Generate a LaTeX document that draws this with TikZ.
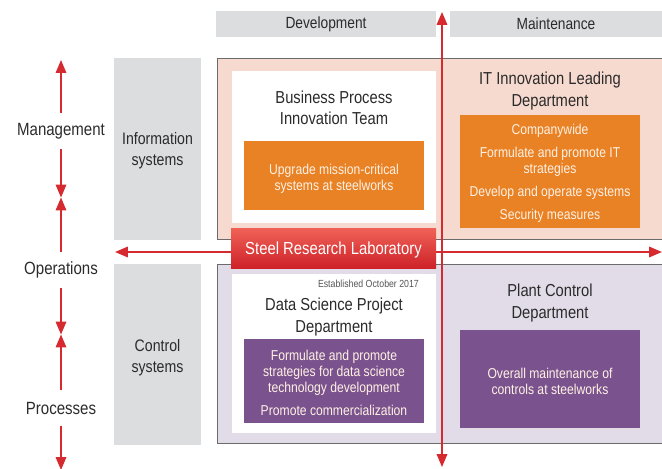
\documentclass[tikz,border=0pt]{standalone}
\usepackage{fontspec}
\setmainfont{Liberation Sans}[FakeStretch=0.85]
\usepackage{tikz}
\usetikzlibrary{positioning, fit, calc, arrows.meta}
\usepackage{xcolor}
\definecolor{headgray}{HTML}{DCDDDF}
\definecolor{mgmtpink}{HTML}{F7DACF}
\definecolor{ctrllav}{HTML}{E2DCE8}
\definecolor{taskorange}{HTML}{E98125}
\definecolor{taskpurple}{HTML}{7A528D}
\definecolor{arrowred}{HTML}{D42A30}
\definecolor{labred}{HTML}{CE2229}
\definecolor{labredtop}{HTML}{EF6257}
\definecolor{textdark}{HTML}{2B2B2B}
\definecolor{framegray}{HTML}{6B6B6B}

\begin{document}
\begin{tikzpicture}[x=0.03cm, y=-0.03cm,
  header/.style={fill=headgray, inner sep=0pt},
  headtext/.style={text=textdark, font=\fontsize{13.8}{16}\selectfont},
  sysbox/.style={fill=headgray, inner sep=0pt},
  systext/.style={align=center, text=textdark, font=\fontsize{14.2}{18}\selectfont},
  tier/.style={minimum height=1.05cm, inner sep=0pt, text=textdark, font=\fontsize{15.1}{18}\selectfont},
  mgmtzone/.style={draw=framegray, line width=0.8pt, fill=mgmtpink, inner sep=0pt},
  ctrlzone/.style={draw=framegray, line width=0.8pt, fill=ctrllav, inner sep=0pt},
  team/.style={fill=white, inner sep=0pt},
  depname/.style={align=center, text=textdark, font=\fontsize{14.8}{18}\selectfont},
  task_o/.style={fill=taskorange, inner sep=0pt},
  task_p/.style={fill=taskpurple, inner sep=0pt},
  tasktext/.style={align=center, text=white!90!orange, font=\fontsize{12.2}{13.7}\selectfont},
  lab/.style={top color=labredtop, bottom color=labred, inner sep=0pt},
  labtext/.style={text=white, font=\fontsize{14.9}{18}\selectfont},
  redarrow/.style={draw=arrowred, line width=1.3pt, -{Triangle[length=11pt, width=9pt]}},
  redboth/.style={draw=arrowred, line width=1.3pt, {Triangle[length=11pt, width=9pt]}-{Triangle[length=11pt, width=9pt]}}
]
    \useasboundingbox (0,0) rectangle (662,468);

    % Zones
    \node[mgmtzone, fit={(217,58) (666,239)}] (z1) {};
    \node[ctrlzone, fit={(217,264) (666,443)}] (z2) {};

    % Column headers
    \node[header, fit={(216,11) (436,37)}] (h1) {};
    \node[header, fit={(450,11) (662,37)}] (h2) {};
    \node[headtext] (h1t) at (h1) {Development};
    \node[headtext] (h2t) at (h2) {Maintenance};

    % Systems
    \node[sysbox, fit={(114,58) (201,240)}] (s1) {};
    \node[sysbox, fit={(114,264) (201,445)}] (s2) {};
    \node[systext] (s1t) at ($(s1)+(0,2)$) {Information\\systems};
    \node[systext] (s2t) at ($(s2)+(0,3)$) {Control\\systems};

    % Levels
    \node[tier] (l1) at (61,131) {Management};
    \node[tier] (l2) at (61,270) {Operations};
    \node[tier] (l3) at (61,408) {Processes};

    % Teams inside the laboratory
    \node[team, fit={(232,71) (436,223)}] (w1) {};
    \node[team, fit={(232,274) (436,433)}] (w2) {};

    % Department names
    \node[depname] (d1) at (334,108) {Business Process\\Innovation Team};
    \node[depname] (d2) at (550,91) {IT Innovation Leading\\Department};
    \node[depname] (d3) at (334,317) {Data Science Project\\Department};
    \node[depname] (d4) at (550,303) {Plant Control\\Department};
    \node[anchor=east, text=textdark!80, font=\fontsize{8.8}{10}\selectfont] (est) at (423,284) {Established October 2017};

    % Tasks
    \node[task_o, fit={(244,141) (424,210)}] (t1) {};
    \node[task_o, fit={(460,115) (640,228)}] (t2) {};
    \node[task_p, fit={(244,339) (424,423)}] (t3) {};
    \node[task_p, fit={(460,330) (640,428)}] (t4) {};
    \node[tasktext] (t1t) at ($(t1)+(0,3)$) {Upgrade mission-critical\\systems at steelworks};
    \node[tasktext] (t2t) at ($(t2)+(0,2)$) {Companywide\\[6pt]Formulate and promote IT\\strategies\\[6pt]Develop and operate systems\\[6pt]Security measures};
    \node[tasktext] (t3t) at ($(t3)+(0,2)$) {Formulate and promote\\strategies for data science\\technology development\\[6pt]Promote commercialization};
    \node[tasktext] (t4t) at ($(t4)+(0,2)$) {Overall maintenance of\\controls at steelworks};

    % Axes
    \coordinate (ax_l) at (115,252);
    \coordinate (ax_r) at (662,252);
    \coordinate (ax_t) at (442,12);
    \coordinate (ax_b) at (442,467);
    \draw[redboth] (ax_l) -- (ax_r);
    \draw[redboth] (ax_b) -- (ax_t);

    % Steel Research Laboratory
    \node[lab, fit={(231,228) (436,268)}] (srl) {};
    \node[labtext] (srlt) at ($(srl)+(0,2)$) {Steel Research Laboratory};

    % Level arrows
    \coordinate (v1) at (61,60);
    \coordinate (v2) at (61,197.5);
    \coordinate (v3) at (61,334.5);
    \coordinate (v4) at (61,470);
    \draw[redarrow] (l1) -- (v1);
    \draw[redarrow] (l1) -- (v2);
    \draw[redarrow] (l2) -- (v2);
    \draw[redarrow] (l2) -- (v3);
    \draw[redarrow] (l3) -- (v3);
    \draw[redarrow] (l3) -- (v4);

\end{tikzpicture}
\end{document}
